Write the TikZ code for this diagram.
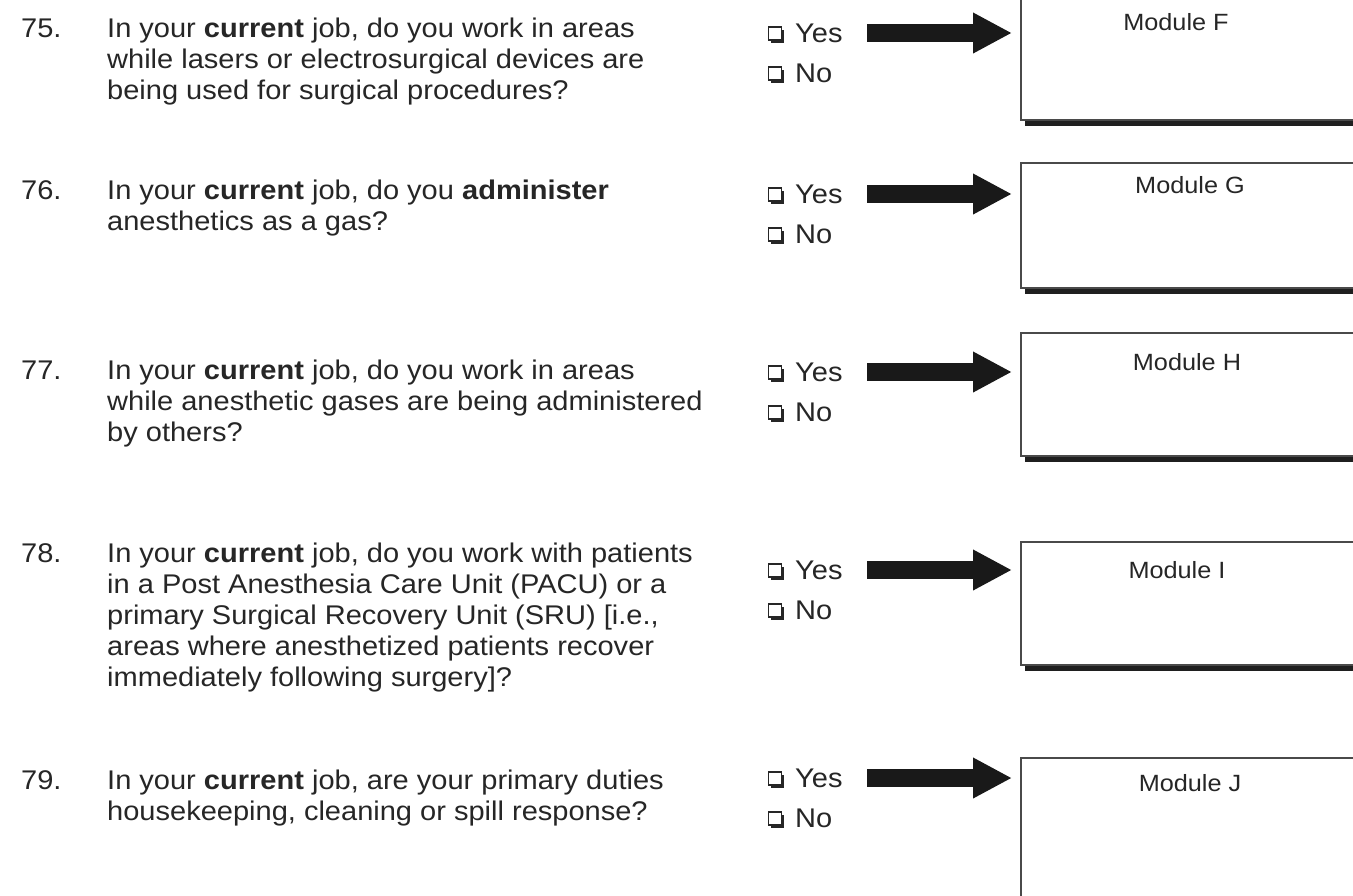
\documentclass[tikz,border=0pt]{standalone}
\usepackage{fontspec}
\setmainfont{Liberation Sans}
\newfontfamily\qfont[FakeStretch=1.075]{Liberation Sans}
\usetikzlibrary{arrows.meta,shadows,calc}
\definecolor{ink}{HTML}{262626}
\definecolor{boxline}{HTML}{4A4A4A}
\tikzset{
  qtext/.style={font=\qfont\fontsize{27}{31}\selectfont, text=ink, inner sep=0pt, anchor=base west},
  ans/.style={font=\qfont\fontsize{27}{31}\selectfont, text=ink, inner sep=0pt, anchor=base west},
  cbox/.style={draw=ink, line width=1.6pt, fill=white, minimum width=13pt, minimum height=13pt, inner sep=0pt,
    drop shadow={shadow xshift=2.5pt, shadow yshift=-2.5pt, fill=ink, opacity=1}},
  modbox/.style={draw=boxline, line width=1.5pt, fill=white, anchor=north west, minimum width=360pt, inner sep=0pt,
    drop shadow={shadow xshift=4pt, shadow yshift=-6pt, fill=black!88, opacity=1}},
  modlabel/.style={font=\qfont\fontsize{23.5}{28}\selectfont, text=ink, inner sep=0pt, anchor=base},
  bigarrow/.style={draw=black!90, line width=18pt, -{Triangle[width=38pt,length=39pt]}, shorten >=8pt}
}
\newcommand\qrow[9]{%
  % #1 id, #2 first baseline, #3 yes baseline, #4 box top, #5 box bottom, #6 module label, #7 label x, #8 label baseline, #9 number
  \node[qtext] (n#1) at (21,#2) {#9};
  \node[ans] (yes#1) at (795,#3) {Yes};
  \node[ans] (no#1) at ($(795,#3)+(0,40)$) {No};
  \node[cbox] (cy#1) at ($(yes#1.base west)+(-20,-8.5)$) {};
  \node[cbox] (cn#1) at ($(no#1.base west)+(-20,-8.5)$) {};
  \node[modbox, minimum height={#5-#4}] (box#1) at (1020,#4) {};
  \node[modlabel] (mod#1) at (#7,#8) {#6};
  \coordinate (a#1) at ($(yes#1.base west)+(72,-9)$);
  \draw[bigarrow] (a#1) -- (a#1 -| box#1.west);
}
\begin{document}
\begin{tikzpicture}[x=1pt,y=-1pt]
\fill[white] (0,0) rectangle (1353,895);
\useasboundingbox (0,0) rectangle (1353,895);

% Q75
\qrow{75}{37}{42}{-20}{119}{Module F}{1176}{30}{75.}
\node[qtext] (q75a) at (107,37) {In your \textbf{current} job, do you work in areas};
\node[qtext] (q75b) at (107,68) {while lasers or electrosurgical devices are};
\node[qtext] (q75c) at (107,99) {being used for surgical procedures?};

% Q76
\qrow{76}{199}{203}{162}{287}{Module G}{1190}{193}{76.}
\node[qtext] (q76a) at (107,199) {In your \textbf{current} job, do you \textbf{administer}};
\node[qtext] (q76b) at (107,230) {anesthetics as a gas?};

% Q77
\qrow{77}{379}{381}{332}{455}{Module H}{1187}{370}{77.}
\node[qtext] (q77a) at (107,379) {In your \textbf{current} job, do you work in areas};
\node[qtext] (q77b) at (107,410) {while anesthetic gases are being administered};
\node[qtext] (q77c) at (107,441) {by others?};

% Q78
\qrow{78}{562}{579}{541}{664}{Module I}{1177}{578}{78.}
\node[qtext] (q78a) at (107,562) {In your \textbf{current} job, do you work with patients};
\node[qtext] (q78b) at (107,593) {in a Post Anesthesia Care Unit (PACU) or a};
\node[qtext] (q78c) at (107,624) {primary Surgical Recovery Unit (SRU) [i.e.,};
\node[qtext] (q78d) at (107,655) {areas where anesthetized patients recover};
\node[qtext] (q78e) at (107,686) {immediately following surgery]?};

% Q79
\qrow{79}{789}{787}{757}{910}{Module J}{1190}{791}{79.}
\node[qtext] (q79a) at (107,789) {In your \textbf{current} job, are your primary duties};
\node[qtext] (q79b) at (107,820) {housekeeping, cleaning or spill response?};
\end{tikzpicture}
\end{document}
